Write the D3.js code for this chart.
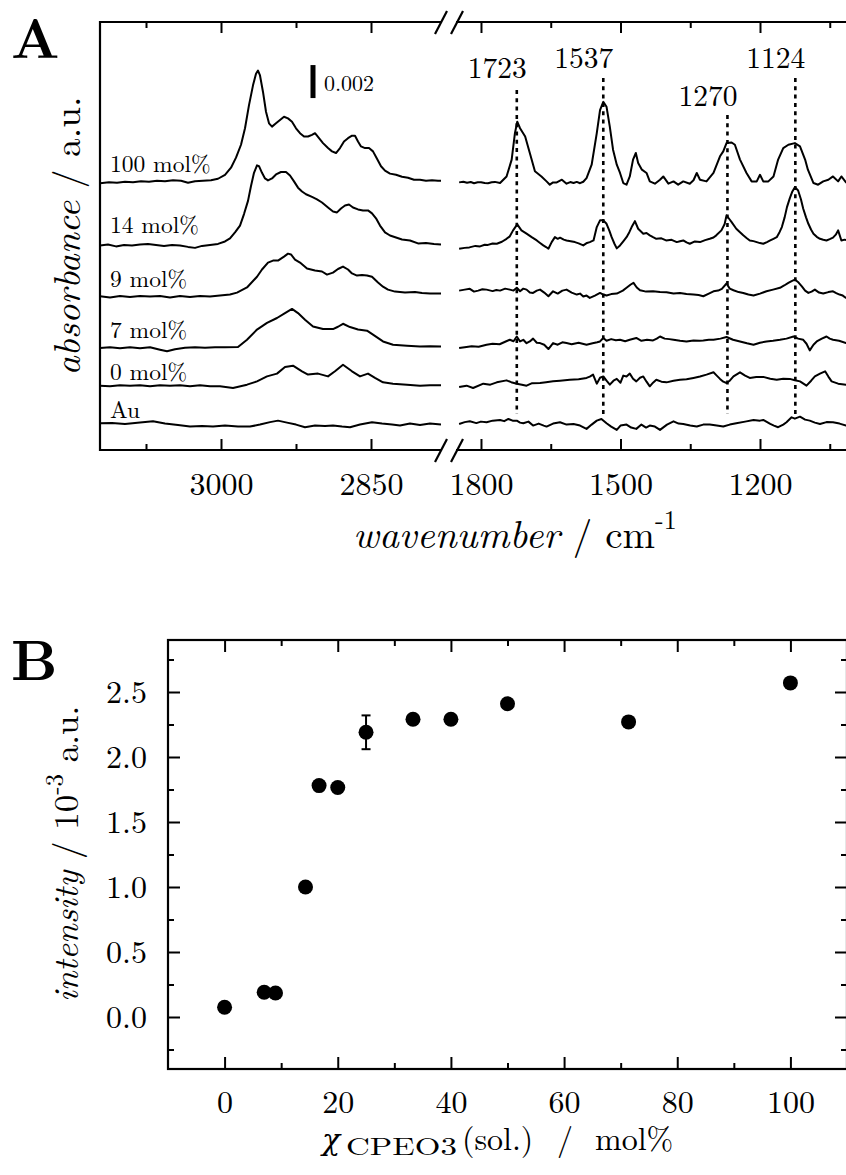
<!DOCTYPE html>
<html><head><meta charset="utf-8">
<script src="https://cdn.jsdelivr.net/npm/d3@7"></script>
<style>body{margin:0;background:#fff} svg{display:block}</style>
</head><body>
<svg id="c" width="846" height="1175"></svg>
<script>
// ---------------- DATA (panel A: absorbance in 1e-4 a.u., wavenumber in cm-1) ----------------
const traceNames = ["100 mol%","14 mol%","9 mol%","7 mol%","0 mol%","Au"];
const traceOffsets = [162,124,93,62,39,16];
const scaleBarValue = 20; // 0.002 a.u. = 20 x 1e-4
const peakPositions = [1723,1537,1270,1124];
const leftMajorTicks = [3000,2850], leftMinorTicks = [3075,2925];
const rightMajorTicks = [1800,1500,1200], rightMinorTicks = [1650,1350,1050];

const L100 = [[3121,-0.3],[3112,0.3],[3104,0],[3096,0.6],[3088,0.3],[3080,0.9],[3072,0.6],[3064,1.2],[3056,0.9],[3048,1.5],[3040,1.2],[3033,0],[3026,0.9],[3018,1.2],[3010,1.5],[3003,2.4],[2996,4.8],[2990,9.1],[2985,15.2],[2980,23],[2976,33],[2972,47],[2968,59],[2965,66],[2963,68],[2961,65],[2958,55],[2955,43],[2952,36],[2949,34],[2945,36],[2941,38],[2937,40],[2933,39],[2929,37],[2925,33],[2921,30],[2917,28],[2913,28],[2909,29],[2906,30],[2902,27],[2898,24],[2893,21],[2889,19],[2885,18],[2881,21],[2877,25],[2873,27],[2869,28.5],[2866,28.5],[2863,25],[2860,22],[2856,21],[2852,21],[2848,19],[2844,14.5],[2840,10],[2836,7.3],[2831,5.5],[2825,4.8],[2819,3.6],[2813,3],[2807,1.8],[2801,1.8],[2795,1.2],[2789,1.5],[2783,1.2],[2780,1.2]];
const L14 = [[3121,0],[3113,0.6],[3105,-0.6],[3097,0.3],[3089,0],[3081,0.6],[3073,0.9],[3065,0.3],[3057,-0.3],[3049,0.3],[3041,0],[3033,-0.9],[3026,-1.5],[3019,-0.3],[3011,0.3],[3003,0.9],[2996,2.4],[2991,4.2],[2986,7.9],[2981,12],[2977,19],[2973,27],[2970,36],[2967,44],[2964,48.5],[2962,48],[2959,44],[2956,40.6],[2953,39.4],[2949,40.6],[2945,43],[2940,44.5],[2935,44.5],[2931,42.4],[2927,38.8],[2923,35],[2919,32.7],[2915,31],[2909,29.4],[2904,27.9],[2899,26],[2893,23],[2888,20.6],[2884,20],[2880,22.4],[2876,24.2],[2872,24.8],[2868,23],[2863,21.8],[2858,21.2],[2853,21.2],[2849,19.4],[2845,16.4],[2841,12],[2836,7.9],[2831,6],[2825,4.8],[2819,3.6],[2811,3],[2803,1.2],[2795,1.5],[2787,0.9],[2780,0.6]];
const L9 = [[3121,0.2],[3111,-0.6],[3101,0.3],[3091,-0.3],[3081,0.3],[3071,0],[3061,0.3],[3051,-0.6],[3041,0.3],[3031,-0.3],[3021,0.3],[3011,0],[3001,0.6],[2991,1.2],[2984,2.4],[2974,5.5],[2964,12],[2959,16.4],[2953,20.6],[2948,21.8],[2943,21.8],[2937,24.2],[2933,26],[2930,25.5],[2926,22.4],[2921,20.6],[2914,17],[2906,15.8],[2899,15.2],[2894,13.3],[2888,14.5],[2883,16.7],[2878,18.2],[2873,16.4],[2869,14],[2864,12.7],[2859,13],[2854,12.7],[2849,12],[2843,8.5],[2838,6],[2833,4.2],[2826,3],[2816,2.4],[2806,2.7],[2799,2.1],[2791,1.8],[2780,1.8]];
const L7 = [[3121,-0.2],[3111,0.3],[3101,-0.3],[3091,0.3],[3081,-0.3],[3071,0.3],[3061,-1.2],[3054,-2.2],[3046,-0.9],[3036,0],[3026,0.3],[3016,0],[3006,0.3],[2996,0.3],[2983,0.4],[2974,4.8],[2964,11],[2954,15],[2944,18],[2936,21],[2929,23.5],[2923,21],[2916,17],[2908,12.9],[2898,11.3],[2888,11.3],[2883,12.7],[2878,14.5],[2871,12.5],[2863,11],[2854,10.3],[2848,7.9],[2838,3.8],[2828,1.8],[2814,1.2],[2801,0.8],[2791,0.9],[2780,0.8]];
const L0 = [[3121,0],[3111,-0.3],[3101,0.3],[3091,0],[3081,0.3],[3071,-0.3],[3061,0.3],[3051,0],[3041,0.2],[3031,-0.3],[3021,0.3],[3011,-0.3],[3001,-0.3],[2988,-1.4],[2974,0.6],[2964,2.6],[2954,5.6],[2944,7.3],[2936,11.3],[2928,12.1],[2919,8.7],[2913,6.7],[2903,7.3],[2893,5.6],[2886,8.7],[2878,12.7],[2869,8.7],[2861,5.6],[2853,7.3],[2846,4.7],[2838,2],[2828,1.2],[2814,0.6],[2801,0],[2791,0.3],[2780,0.2]];
const LAu = [[3121,0.2],[3109,0.3],[3096,-0.3],[3081,0.6],[3068,1.4],[3056,0],[3043,-0.9],[3031,-1.8],[3019,-1.5],[3008,-1.8],[2996,-1.2],[2983,-1.8],[2971,-1.8],[2961,-0.6],[2951,0.9],[2943,1.8],[2934,0.6],[2925,-0.6],[2916,-2.2],[2906,-1.2],[2896,-1.5],[2888,-1.2],[2879,-1.8],[2871,-2.2],[2861,-0.6],[2849,0.8],[2839,0],[2829,-0.6],[2821,-1.2],[2811,0],[2801,-0.9],[2791,0],[2780,-0.6]];

const R100 = [[1847,0.2],[1838,0.6],[1830,0],[1822,0.4],[1815,-0.3],[1807,0.3],[1800,0.3],[1792,-0.2],[1785,-0.3],[1777,0.3],[1770,0.5],[1759,-0.2],[1745,3.8],[1734,14],[1727,30],[1722,37],[1716,33],[1705,28],[1695,18],[1684,6.9],[1670,3.8],[1659,0.8],[1652,-1.2],[1645,0.2],[1637,0.2],[1626,1.8],[1616,-0.6],[1608,0.4],[1601,-0.2],[1594,0.5],[1587,-0.3],[1580,0.6],[1573,2.8],[1562,10.9],[1551,30],[1544,44],[1537,49],[1530,46],[1523,34],[1516,20],[1508,10.9],[1501,5.9],[1494,-0.2],[1487,-1.2],[1480,3.8],[1473,14],[1467,18],[1462,12],[1454,7.9],[1444,5.9],[1437,0.8],[1426,-0.6],[1415,1.8],[1408,3.8],[1397,-0.6],[1386,0.8],[1376,-1.2],[1365,0.8],[1351,-0.6],[1343,1.5],[1336,5.9],[1329,1.8],[1315,0.8],[1300,5.9],[1286,16],[1279,19],[1272,24],[1261,24.4],[1254,23],[1243,14],[1229,5.9],[1218,0.8],[1207,0.8],[1200,4.8],[1193,0.8],[1182,0.8],[1171,3.8],[1161,14],[1150,21],[1139,23],[1125,24],[1114,22],[1103,14],[1097,7.9],[1085,-0.2],[1075,-1.2],[1064,0.8],[1053,1.8],[1043,3.8],[1032,0.8],[1025,3.8],[1015,0.2],[1005,1.0]];
const R14 = [[1847,-2],[1835,-1.5],[1825,-1.2],[1812,-0.3],[1802,-0.6],[1792,0.4],[1785,0.3],[1775,1.2],[1766,1],[1755,2.2],[1745,4],[1738,5.5],[1731,9.1],[1722,12.7],[1713,9.1],[1702,7.1],[1691,5],[1680,3],[1673,1.5],[1666,0],[1660,-1],[1655,-2],[1648,2],[1641,5],[1635,4],[1630,4.7],[1622,3.5],[1616,3],[1607,2.5],[1598,2],[1590,1.2],[1580,0],[1572,1.5],[1566,2],[1558,3],[1551,11.1],[1544,15.2],[1537,15.2],[1530,13.1],[1524,9],[1519,5],[1513,1],[1508,-1.8],[1501,0],[1494,2.5],[1487,5],[1481,8],[1476,11.1],[1469,14.7],[1462,10.1],[1451,7.1],[1444,7.5],[1437,6.1],[1430,5],[1423,4],[1412,4.3],[1402,3],[1390,3.4],[1379,2],[1372,2.5],[1365,3],[1358,1.8],[1351,1],[1340,2.4],[1329,2],[1318,3.2],[1308,4],[1300,4.8],[1294,6.1],[1283,9.1],[1276,13],[1272,18.2],[1266,16],[1261,14.1],[1251,10.1],[1243,8],[1236,6.1],[1229,4.5],[1222,3],[1214,2.6],[1207,2],[1200,1.4],[1193,1],[1185,2],[1178,3],[1171,4],[1164,5],[1158,8],[1153,11.1],[1147,17],[1142,23.2],[1136,28.5],[1131,32.3],[1125,35.3],[1118,33.3],[1112,28],[1107,22.2],[1101,17],[1096,13.1],[1090,9.5],[1085,7.1],[1078,5.2],[1071,4],[1064,3.4],[1057,3],[1050,3.8],[1043,4.7],[1037,6.5],[1032,9.1],[1025,3],[1018,3.5],[1010,3]];
const R9 = [[1847,3.6],[1835,4.2],[1824,4.7],[1815,3],[1806,3.6],[1797,4.4],[1788,4.2],[1775,3.3],[1767,4.0],[1759,3.6],[1748,4.8],[1738,4.2],[1730,3.6],[1723,5.3],[1716,3.2],[1709,4.8],[1702,4.2],[1695,2.4],[1688,2.2],[1680,3.6],[1673,4.2],[1664,2.4],[1655,0.2],[1645,3.2],[1635,1.8],[1625,3.6],[1616,4.2],[1605,2.4],[1594,1.2],[1587,1.8],[1580,0],[1573,0.6],[1566,-0.8],[1555,0.6],[1544,2.2],[1537,1.2],[1530,0.6],[1520,1.5],[1508,1.8],[1495,3.6],[1487,5.3],[1478,7.3],[1472,8.3],[1465,5.5],[1458,3.8],[1445,3],[1430,3.2],[1415,2.7],[1401,2.6],[1386,1.8],[1372,2.2],[1358,1.5],[1343,1.2],[1332,0.9],[1322,0.2],[1310,1.8],[1300,3.2],[1290,3.6],[1282,4.7],[1272,7.9],[1265,4.8],[1257,3.8],[1246,2.7],[1236,2.2],[1225,1.2],[1214,0.6],[1200,1.8],[1186,3.2],[1172,4.2],[1157,5.3],[1148,6.7],[1139,8.3],[1132,9.4],[1125,10.3],[1117,8.5],[1110,6.2],[1103,3.6],[1096,2.2],[1089,3],[1082,4.2],[1073,2.4],[1064,1.8],[1053,2.7],[1043,3.2],[1036,2.1],[1029,1.2],[1022,0.6],[1015,-0.8],[1005,-0.5]];
const R7 = [[1847,-0.2],[1835,0.3],[1820,0.9],[1805,0.6],[1788,1.8],[1775,2.4],[1760,2.1],[1748,3.6],[1738,4.8],[1730,3.9],[1723,6.8],[1716,3.8],[1709,4.8],[1702,2.7],[1695,3.8],[1688,5.5],[1680,3],[1673,2.8],[1664,1.8],[1655,-0.8],[1645,2.8],[1635,1.8],[1625,3.3],[1616,2.8],[1605,2.1],[1590,3],[1573,1.8],[1560,2.7],[1550,3.3],[1544,3.8],[1537,5.9],[1530,4.2],[1520,5.2],[1510,4.5],[1501,4.8],[1490,3.9],[1480,4.8],[1466,5.9],[1455,4.2],[1443,4.8],[1430,4.4],[1422,5.5],[1415,6.8],[1405,5.5],[1395,5.2],[1386,4.8],[1372,4.2],[1358,3.8],[1343,4.4],[1330,4.2],[1322,4.4],[1310,4.8],[1300,4.8],[1285,5.5],[1272,6.5],[1258,4.8],[1243,3.8],[1228,2.7],[1214,1.8],[1200,3],[1186,3.8],[1172,4.2],[1157,4.8],[1143,5.5],[1128,6.8],[1118,5.5],[1107,4.8],[1100,2.4],[1093,-1.6],[1085,1.8],[1078,3.8],[1067,5.5],[1057,6.8],[1050,5.5],[1043,4.8],[1030,4.2],[1015,2.8],[1005,2.5]];
const R0 = [[1847,-0.8],[1831,0],[1817,-1.4],[1795,1.2],[1780,0.6],[1766,2],[1745,3.2],[1735,2.1],[1723,1.2],[1712,0.6],[1702,0],[1690,1.5],[1673,1.6],[1660,2.1],[1645,2.6],[1630,3],[1609,3.6],[1590,3.9],[1573,4.7],[1566,5.5],[1559,6.7],[1551,1.2],[1544,4.8],[1537,5.6],[1530,3],[1523,0.6],[1515,3],[1508,4.1],[1500,1.8],[1494,6.1],[1487,5.5],[1480,7.3],[1473,4.2],[1466,2.6],[1458,4.8],[1451,5.6],[1444,2.4],[1437,-0.4],[1430,1.8],[1423,3.6],[1412,2.4],[1401,2],[1386,3],[1372,3.6],[1358,3.9],[1343,4.7],[1329,5.5],[1315,6.7],[1300,8.1],[1293,6.1],[1286,4.1],[1279,2.4],[1272,1.6],[1265,3],[1257,5.6],[1243,8.1],[1232,6.1],[1222,4.7],[1208,5.2],[1193,5.3],[1178,4.2],[1164,3.6],[1150,4.2],[1136,4.1],[1125,3.3],[1114,2.6],[1100,0],[1090,3],[1082,5.6],[1071,7.3],[1060,8.7],[1053,5.5],[1046,2.6],[1032,1.2],[1015,0.6],[1005,0.8]];
const RAu = [[1847,-0.2],[1835,0.9],[1824,1.4],[1810,0.3],[1800,1.2],[1788,0.8],[1775,1.8],[1759,2.2],[1750,1.5],[1741,2.8],[1732,1.8],[1723,1.8],[1716,0.6],[1709,0.2],[1698,1.2],[1688,-1.2],[1676,0],[1665,-1.2],[1659,-1.8],[1645,0],[1630,0.8],[1616,-0.6],[1601,-0.2],[1587,-1.2],[1573,-3.2],[1562,-0.6],[1551,1.8],[1541,2.8],[1530,0.2],[1520,-1.8],[1508,-3.8],[1500,-1.2],[1487,-0.6],[1477,-2.4],[1466,-3.2],[1455,-0.6],[1445,-2.4],[1437,-1.2],[1426,-1.8],[1415,-3.8],[1400,-0.6],[1386,1.4],[1375,0],[1365,-0.2],[1350,-1.2],[1336,-1.8],[1322,-0.6],[1308,-0.6],[1293,-1.2],[1279,-1.8],[1265,-0.6],[1251,0.2],[1232,1.2],[1214,2.2],[1200,1.8],[1193,2.2],[1178,-0.2],[1170,-1.2],[1161,-2.2],[1150,-0.6],[1143,0.8],[1132,3.8],[1125,3],[1114,4.2],[1103,2.4],[1093,1.8],[1082,0.6],[1071,-0.2],[1057,0.9],[1043,0.8],[1029,0],[1015,-1.2],[1005,-0.8]];

const leftTraces = [L100,L14,L9,L7,L0,LAu];
const rightTraces = [R100,R14,R9,R7,R0,RAu];

// ---------------- DATA (panel B) ----------------
const molFraction = [0,7,9,14.3,16.7,20,25,33.3,40,50,71.4,100];
const intensity   = [0.075,0.19,0.185,1.00,1.78,1.765,2.19,2.29,2.29,2.41,2.27,2.57];
const intensityErr= [0,0,0,0,0,0,0.13,0,0,0,0,0];
const bXMajor = [0,20,40,60,80,100], bXMinor = [10,30,50,70,90];
const bYMajor = [0,0.5,1.0,1.5,2.0,2.5], bYMinor = [-0.25,0.25,0.75,1.25,1.75,2.25,2.75];

// ---------------- DRAW ----------------
const FONT = "'Latin Modern Roman','Liberation Serif','Times New Roman',serif";
const svg = d3.select("#c");

function styleAxis(g, labels, size){
  g.attr("font-family", null).attr("font-size", null);
  g.select(".domain").remove();
  g.selectAll(".tick line").attr("stroke","#000").attr("stroke-width",2);
  if(!labels) g.selectAll(".tick text").remove();
  else g.selectAll(".tick text").attr("fill","#000").style("font-size",(size||32)+"px");
  return g;
}

// ===== Panel A =====
const xL = d3.scaleLinear().domain([3121,2780]).range([100,441]);
const xR = d3.scaleLinear().domain([1849,1000]).range([458.2,853]);
const yA = d3.scaleLinear().domain([0,259.4]).range([450,22]);
const gA = svg.append("g");

svg.append("defs").html(
 '<clipPath id="cl"><rect x="100" y="0" width="343" height="450"/></clipPath>'+
 '<clipPath id="cr"><rect x="457" y="0" width="400" height="450"/></clipPath>');

styleAxis(gA.append("g").attr("transform","translate(0,450)").call(d3.axisBottom(xL).tickValues(leftMajorTicks).tickSize(-11).tickPadding(22).tickFormat(d3.format("d"))), true);
styleAxis(gA.append("g").attr("transform","translate(0,450)").call(d3.axisBottom(xL).tickValues(leftMinorTicks).tickSize(-6)), false);
styleAxis(gA.append("g").attr("transform","translate(0,450)").call(d3.axisBottom(xR).tickValues(rightMajorTicks).tickSize(-11).tickPadding(22).tickFormat(d3.format("d"))), true);
styleAxis(gA.append("g").attr("transform","translate(0,450)").call(d3.axisBottom(xR).tickValues(rightMinorTicks).tickSize(-6)), false);
styleAxis(gA.append("g").attr("transform","translate(0,22)").call(d3.axisTop(xL).tickValues(leftMajorTicks).tickSize(-11)), false);
styleAxis(gA.append("g").attr("transform","translate(0,22)").call(d3.axisTop(xL).tickValues(leftMinorTicks).tickSize(-6)), false);
styleAxis(gA.append("g").attr("transform","translate(0,22)").call(d3.axisTop(xR).tickValues(rightMajorTicks).tickSize(-11)), false);
styleAxis(gA.append("g").attr("transform","translate(0,22)").call(d3.axisTop(xR).tickValues(rightMinorTicks).tickSize(-6)), false);

const fr = gA.append("g").attr("stroke","#000").attr("stroke-width",2.2).attr("fill","none");
fr.append("line").attr("x1",100).attr("x2",100).attr("y1",21).attr("y2",451);
fr.append("line").attr("x1",99).attr("x2",442).attr("y1",22).attr("y2",22);
fr.append("line").attr("x1",456).attr("x2",850).attr("y1",22).attr("y2",22);
fr.append("line").attr("x1",99).attr("x2",441).attr("y1",450).attr("y2",450);
fr.append("line").attr("x1",456).attr("x2",850).attr("y1",450).attr("y2",450);
[22,450].forEach(yy=>{
  [441,457].forEach(cx=>{
    fr.append("line").attr("x1",cx-6).attr("y1",yy+12).attr("x2",cx+6).attr("y2",yy-11);
  });
});

const peakTop = [90,78,115,78];
const peakLabelY = [78,68,106,68];
peakPositions.forEach((p,i)=>{
  gA.append("line").attr("x1",xR(p)).attr("x2",xR(p)).attr("y1",peakTop[i]).attr("y2",414)
    .attr("stroke","#000").attr("stroke-width",2.6).attr("stroke-dasharray","4,4.3");
  gA.append("text").attr("x",xR(p)+10).attr("y",peakLabelY[i]).attr("text-anchor","end")
    .style("font-size","29.5px").text(p);
});

traceNames.forEach((name,i)=>{
  const off = traceOffsets[i];
  gA.append("path").attr("clip-path","url(#cl)")
    .attr("d", d3.line().x(d=>xL(d[0])).y(d=>yA(off+d[1]))(leftTraces[i]))
    .attr("fill","none").attr("stroke","#000").attr("stroke-width",2).attr("stroke-linejoin","round");
  gA.append("path").attr("clip-path","url(#cr)")
    .attr("d", d3.line().x(d=>xR(d[0])).y(d=>yA(off+d[1]))(rightTraces[i]))
    .attr("fill","none").attr("stroke","#000").attr("stroke-width",2).attr("stroke-linejoin","round");
});
const labelY = [172,233,287,338,380,418];
traceNames.forEach((name,i)=>{
  gA.append("text").attr("x",110).attr("y",labelY[i]).style("font-size","23.5px").text(name);
});

const sbBase = 213.3;
gA.append("line").attr("x1",313).attr("x2",313).attr("y1",yA(sbBase)).attr("y2",yA(sbBase+scaleBarValue))
  .attr("stroke","#000").attr("stroke-width",5);
gA.append("text").attr("x",324).attr("y",91).style("font-size","22px").text("0.002");

svg.append("text").attr("x",11).attr("y",58).style("font-size","56px").style("font-weight","bold").text("A");
const tAx = svg.append("text").attr("x",353).attr("y",548).style("font-size","39px");
tAx.append("tspan").style("font-style","italic").text("wavenumber");
tAx.append("tspan").text(" / cm");
tAx.append("tspan").style("font-size","26px").attr("dy",-19).text("-1");
const tAy = svg.append("text").attr("transform","translate(80,236) rotate(-90)").attr("text-anchor","middle").style("font-size","37.5px");
tAy.append("tspan").style("font-style","italic").text("absorbance");
tAy.append("tspan").text(" / a.u.");

// ===== Panel B =====
const xB = d3.scaleLinear().domain([-10,110]).range([168,847]);
const yB = d3.scaleLinear().domain([-0.4,2.9]).range([1069,640]);
const gB = svg.append("g");
styleAxis(gB.append("g").attr("transform","translate(0,1069)").call(d3.axisBottom(xB).tickValues(bXMajor).tickSize(-12).tickPadding(21).tickFormat(d3.format("d"))), true);
styleAxis(gB.append("g").attr("transform","translate(0,1069)").call(d3.axisBottom(xB).tickValues(bXMinor).tickSize(-6)), false);
styleAxis(gB.append("g").attr("transform","translate(0,640)").call(d3.axisTop(xB).tickValues(bXMajor).tickSize(-12)), false);
styleAxis(gB.append("g").attr("transform","translate(0,640)").call(d3.axisTop(xB).tickValues(bXMinor).tickSize(-6)), false);
styleAxis(gB.append("g").attr("transform","translate(168,0)").call(d3.axisLeft(yB).tickValues(bYMajor).tickSize(-12).tickPadding(21).tickFormat(d3.format(".1f"))), true);
styleAxis(gB.append("g").attr("transform","translate(168,0)").call(d3.axisLeft(yB).tickValues(bYMinor).tickSize(-6)), false);
styleAxis(gB.append("g").attr("transform","translate(847,0)").call(d3.axisRight(yB).tickValues(bYMajor).tickSize(-12)), false);
styleAxis(gB.append("g").attr("transform","translate(847,0)").call(d3.axisRight(yB).tickValues(bYMinor).tickSize(-6)), false);
gB.append("rect").attr("x",168).attr("y",640).attr("width",679).attr("height",429)
  .attr("fill","none").attr("stroke","#000").attr("stroke-width",2.2);

molFraction.forEach((m,i)=>{
  if(intensityErr[i]>0){
    const x = xB(m), y1 = yB(intensity[i]-intensityErr[i]), y2 = yB(intensity[i]+intensityErr[i]);
    const e = gB.append("g").attr("stroke","#000").attr("stroke-width",2);
    e.append("line").attr("x1",x).attr("x2",x).attr("y1",y1).attr("y2",y2);
    e.append("line").attr("x1",x-4.5).attr("x2",x+4.5).attr("y1",y1).attr("y2",y1);
    e.append("line").attr("x1",x-4.5).attr("x2",x+4.5).attr("y1",y2).attr("y2",y2);
  }
});
gB.selectAll("circle.pt").data(molFraction).join("circle").attr("class","pt")
  .attr("cx",d=>xB(d)).attr("cy",(d,i)=>yB(intensity[i])).attr("r",7.5).attr("fill","#000");

svg.append("text").attr("x",11).attr("y",680).style("font-size","57px").style("font-weight","bold").text("B");
const tBy = svg.append("text").attr("transform","translate(78,854) rotate(-90)").attr("text-anchor","middle").style("font-size","35px");
tBy.append("tspan").style("font-style","italic").text("intensity");
tBy.append("tspan").text(" / 10");
tBy.append("tspan").style("font-size","25px").attr("dy",-15).text("-3");
tBy.append("tspan").attr("dy",15).text(" a.u.");

svg.append("text").attr("x",322).attr("y",1150).style("font-size","30px").style("font-style","italic")
  .style("font-family","'DejaVu Serif','Latin Modern Roman',serif").text("χ");
svg.append("text").attr("x",346).attr("y",1155).style("font-size","25px")
  .attr("textLength",111).attr("lengthAdjust","spacingAndGlyphs").text("CPEO3");
svg.append("text").attr("x",462).attr("y",1150).style("font-size","32px").text("(sol.)");
svg.append("text").attr("x",557).attr("y",1150).style("font-size","32px").text("/");
svg.append("text").attr("x",595).attr("y",1150).style("font-size","32px").text("mol%");

svg.selectAll("text").each(function(){ if(!this.style.fontFamily) this.style.fontFamily = FONT; this.setAttribute("fill","#000"); });
</script>
</body></html>
